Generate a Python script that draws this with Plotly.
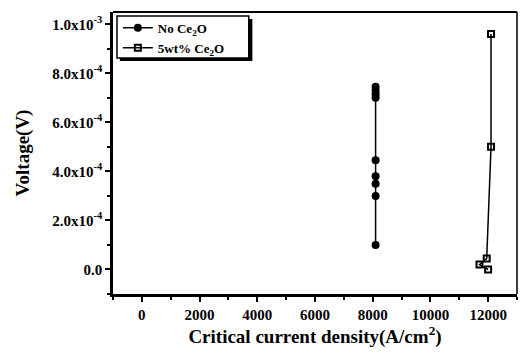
import plotly.graph_objects as go

# Data
no_ce_x = [8100, 8100, 8100, 8100, 8100, 8100, 8100, 8100, 8100]
no_ce_y = [1.0e-4, 3.0e-4, 3.5e-4, 3.8e-4, 4.45e-4, 7.0e-4, 7.15e-4, 7.3e-4, 7.45e-4]
ce_x = [12000, 11700, 11950, 12100, 12100]
ce_y = [0.0, 2.0e-5, 4.5e-5, 5.0e-4, 9.6e-4]

x_ticks = [0, 2000, 4000, 6000, 8000, 10000, 12000]
x_ticklabels = ["0", "2000", "4000", "6000", "8000", "10000", "12000"]
y_ticks = [0.0, 2e-4, 4e-4, 6e-4, 8e-4, 1e-3]
y_ticklabels = ["0.0", "2.0x10<sup>-4</sup>", "4.0x10<sup>-4</sup>", "6.0x10<sup>-4</sup>",
                "8.0x10<sup>-4</sup>", "1.0x10<sup>-3</sup>"]

font = "Liberation Serif"

fig = go.Figure()
fig.add_trace(go.Scatter(
    x=no_ce_x, y=no_ce_y, mode="lines+markers", name="No Ce<sub>2</sub>O",
    line=dict(color="black", width=1.5),
    marker=dict(symbol="circle", size=8, color="black"),
))
fig.add_trace(go.Scatter(
    x=ce_x, y=ce_y, mode="lines+markers", name="5wt% Ce<sub>2</sub>O",
    line=dict(color="black", width=1.5),
    marker=dict(symbol="square-open", size=6, color="black", line=dict(width=2)),
))

axis_common = dict(
    showgrid=False, zeroline=False, showline=True, linecolor="black", linewidth=2.5,
    ticks="outside", ticklen=5, tickwidth=2, tickcolor="black",
    tickfont=dict(family=font, size=15, color="black", weight="bold"),
)

fig.update_xaxes(
    range=[-1000, 13000], tickvals=x_ticks, ticktext=x_ticklabels,
    minor=dict(dtick=1000, ticklen=3, tickwidth=1.5, tickcolor="black", ticks="outside"),
    title=dict(text="Critical current density(A/cm<sup>2</sup>)",
               font=dict(family=font, size=19, color="black", weight="bold"), standoff=4),
    **axis_common,
)
fig.update_yaxes(
    range=[-1.0e-4, 1.05e-3], tickvals=y_ticks, ticktext=y_ticklabels,
    minor=dict(dtick=1e-4, ticklen=3, tickwidth=1.5, tickcolor="black", ticks="outside"),
    title=dict(text="Voltage(V)",
               font=dict(family=font, size=19, color="black", weight="bold"), standoff=18),
    **axis_common,
)

# thin top/right frame
fig.add_shape(type="line", xref="paper", yref="paper", x0=0, x1=1, y0=1, y1=1,
              line=dict(color="black", width=2))
fig.add_shape(type="line", xref="paper", yref="paper", x0=1, x1=1, y0=0, y1=1,
              line=dict(color="black", width=1.5))

# legend frame with drop shadow
fig.add_shape(type="rect", xref="paper", yref="paper",
              x0=0.017, x1=0.345, y0=0.826, y1=0.975,
              fillcolor="black", line=dict(width=0), layer="above")
fig.add_shape(type="rect", xref="paper", yref="paper",
              x0=0.0099, x1=0.336, y0=0.837, y1=0.986,
              fillcolor="white", line=dict(color="black", width=1.5), layer="above")

fig.update_layout(
    width=526, height=357,
    margin=dict(l=113, r=9, t=12, b=63),
    paper_bgcolor="white", plot_bgcolor="white",
    showlegend=True,
    legend=dict(x=0.012, y=0.997, xanchor="left", yanchor="top",
                bgcolor="rgba(0,0,0,0)", borderwidth=0,
                font=dict(family=font, size=13, color="black", weight="bold"),
                itemwidth=30, tracegroupgap=0),
)

fig.write_html("out.html")
